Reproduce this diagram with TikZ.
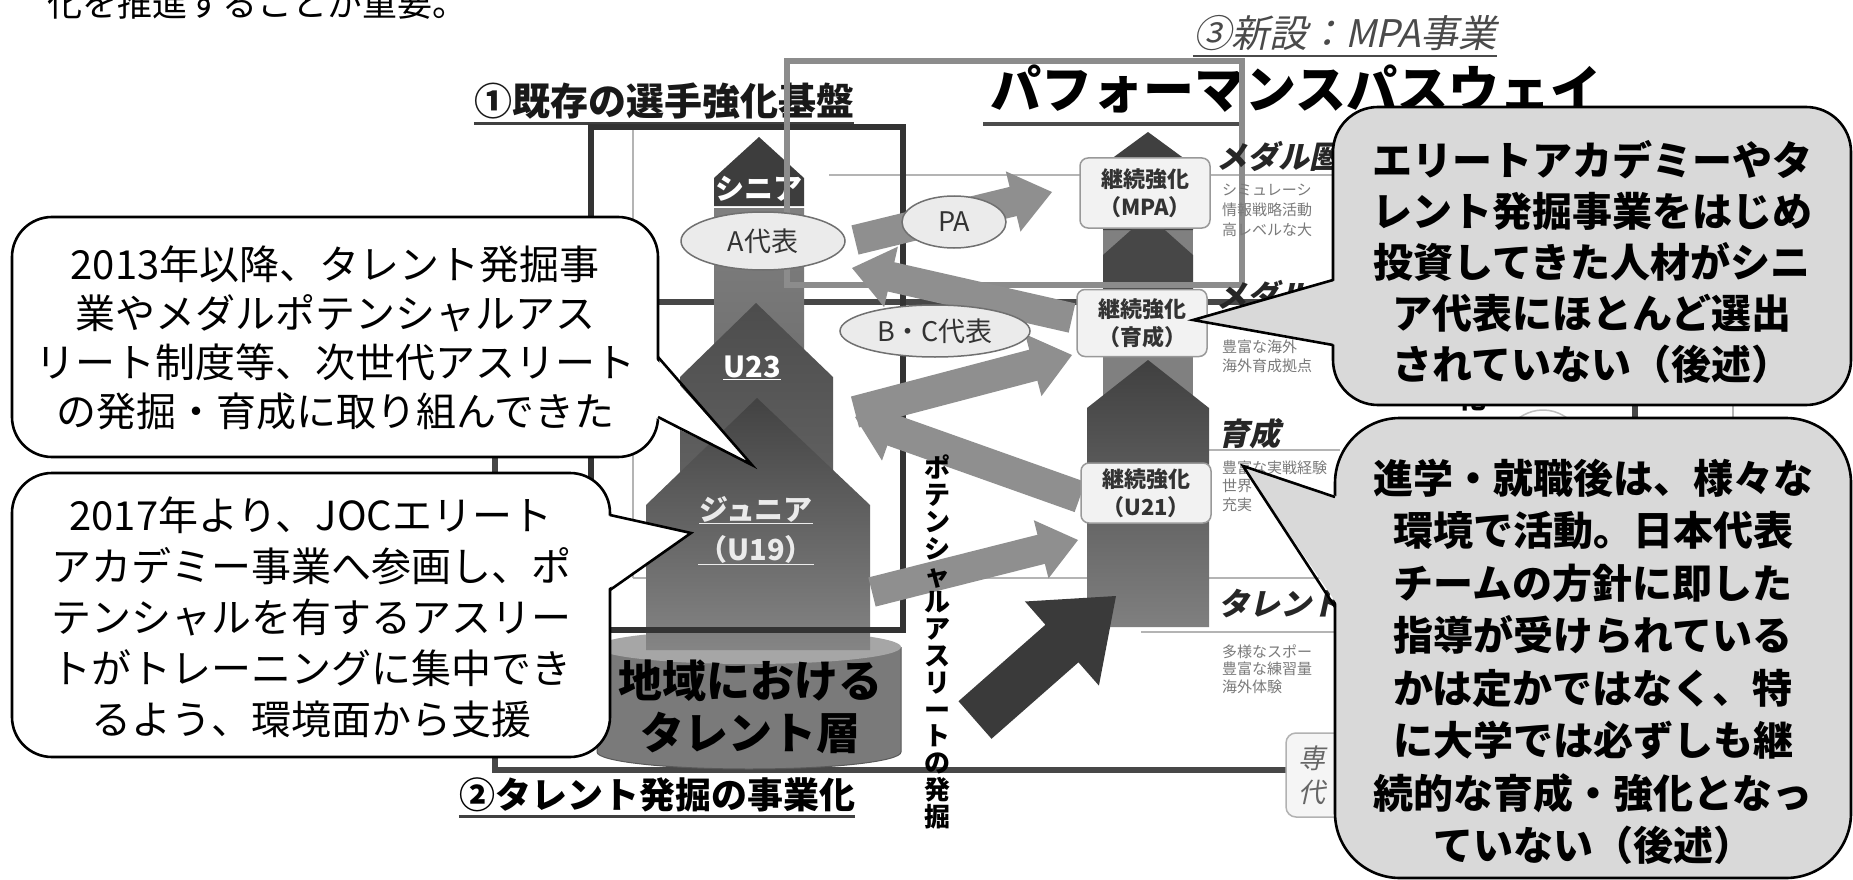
\documentclass[tikz,border=0pt]{standalone}
\usepackage{fontspec}
\setmainfont{Noto Sans CJK JP}
\newfontfamily\jpsl[FakeSlant=0.22]{Noto Sans CJK JP}
\usetikzlibrary{calc,shapes.geometric}
\definecolor{cbox1}{HTML}{333333}
\definecolor{cbox2}{HTML}{474747}
\definecolor{cbox3}{HTML}{8C8C8C}
\definecolor{cgrid}{HTML}{B4B4B4}
\definecolor{cfat}{HTML}{8F8F8F}
\definecolor{cbig}{HTML}{3A3A3A}
\definecolor{cell}{HTML}{EBEBEB}
\definecolor{cellb}{HTML}{707070}
\definecolor{ccall}{HTML}{D9D9D9}
\definecolor{csmall}{HTML}{7A7A7A}
\definecolor{clab}{HTML}{4A4A4A}
\newcommand\myfs[2]{\fontsize{#1}{#2}\selectfont}
\newcommand\fatarrow[6]{%
  \coordinate (fahd) at ($(#2)!#5!(#1)$);
  \fill[#6] ($(#1)!#3!90:(#2)$) -- ($(fahd)!#3!90:(#2)$) -- ($(fahd)!#4!90:(#2)$) -- (#2)
    -- ($(fahd)!#4!-90:(#2)$) -- ($(fahd)!#3!-90:(#2)$) -- ($(#1)!#3!-90:(#2)$) -- cycle;}
\tikzset{
  gridline/.style={draw=cgrid, line width=1.6pt},
  fatgray/.style={fill=cfat},
  ovalnode/.style={ellipse, draw=cellb, fill=cell, line width=1.5pt, inner sep=0pt, font=\myfs{27}{30}, text=black!80},
  kbox/.style={draw=black!40, fill=black!5, rounded corners=8pt, line width=1.5pt, minimum width=130pt, align=center, font=\bfseries\myfs{22}{28}, text=black!80, inner sep=2pt},
  callwhite/.style={draw=black, fill=white, line width=2.6pt, rounded corners=40pt},
  callgray/.style={draw=black, fill=ccall, line width=2.6pt, rounded corners=45pt},
  callside/.style={draw=black, line width=2.6pt, line join=miter},
  calltext/.style={align=center, text=black, font=\myfs{40}{49}},
  calltextb/.style={align=center, text=black, font=\bfseries\myfs{40}{51}},
  smalltxt/.style={anchor=west, text=csmall, font=\myfs{15}{17}, inner sep=0pt},
  levellab/.style={anchor=west, font=\jpsl\bfseries\myfs{31}{34}, text=black!85, inner sep=0pt},
  collab/.style={text=white, font=\bfseries\myfs{29}{40}, align=center, inner sep=0pt},
}
\begin{document}
\begin{tikzpicture}[x=1pt,y=-1pt]
\useasboundingbox (0,0) rectangle (1853,880);
\fill[white] (0,0) rectangle (1853,880);

% top text, cut by the upper edge as in the source
\node[anchor=west, font=\myfs{35}{40}, inner sep=0pt] (toptxt) at (47,3) {化を推進することが重要。};

% labels
\node[font=\jpsl\myfs{38}{44}, text=clab, inner sep=0pt] (lab3) at (1345,33) {③新設：MPA事業};
\draw[clab, line width=2.6pt] ([yshift=-5pt]lab3.south west) -- ([yshift=-5pt]lab3.south east);
\node[font=\bfseries\myfs{38}{44}, text=black!90, inner sep=0pt] (lab1) at (664,101) {①既存の選手強化基盤};
\draw[black!75, line width=3pt] ([yshift=-4pt]lab1.south west) -- ([yshift=-4pt]lab1.south east);
\node[font=\bfseries\myfs{51}{56}, inner sep=0pt] (ppw) at (1296,89) {パフォーマンスパスウェイ};
\draw[black!70, line width=3.5pt] (983,124) -- (1242,124);
\node[font=\bfseries\myfs{36}{42}, inner sep=0pt] (lab2) at (657,795) {②タレント発掘の事業化};
\draw[black!75, line width=3pt] ([yshift=-4pt]lab2.south west) -- ([yshift=-4pt]lab2.south east);

% grid lines of the original figure
\draw[gridline] (829,175) -- (1340,175);
\draw[gridline] (633,128) -- (633,578);
\draw[gridline] (633,578) -- (1340,578);
\draw[gridline] (1136,450) -- (1340,450);
\draw[gridline] (1141,632) -- (1340,632);
\draw[gridline] (1733,380) -- (1733,440);
\draw[draw=black!25, line width=1.5pt] (1543,480) ellipse [x radius=52pt, y radius=70pt];

% box 2
\draw[draw=cbox2, line width=6pt] (495,302) rectangle (1635,770);

% cylinder
\fill[black!52] (597,647) -- (597,752) arc[start angle=180, end angle=360, x radius=152pt, y radius=17pt] -- (901,647) -- cycle;
\draw[black!65, line width=1pt] (597,647) -- (597,752) arc[start angle=180, end angle=360, x radius=152pt, y radius=17pt] -- (901,647);
\fill[black!35] (749,647) ellipse [x radius=152pt, y radius=17pt];

% left columns
\fill[black!76] (714,206) -- (714,178) -- (759,137) -- (804,178) -- (804,206) -- cycle;
\shade[top color=black!50, bottom color=black!58] (714,208) rectangle (804,420);
\shade[top color=black!70, bottom color=black!55] (680,640) -- (680,377) -- (756,303) -- (833,377) -- (833,640) -- cycle;
\shade[top color=black!74, bottom color=black!48] (646,650) -- (646,505) -- (757,398) -- (870,505) -- (870,650) -- cycle;

% right columns
\fill[black!50] (1103,165) rectangle (1193,410);
\fill[black!75] (1103,230) -- (1103,165) -- (1148,132) -- (1193,165) -- (1193,230) -- cycle;
\fill[black!72] (1103,300) -- (1103,255) -- (1148,215) -- (1193,255) -- (1193,300) -- cycle;
\shade[top color=black!75, bottom color=black!50] (1087,627) -- (1087,408) -- (1148,360) -- (1209,408) -- (1209,627) -- cycle;

% column labels
\node[collab] (sen) at (759,189) {シニア};
\node[collab] (u23) at (752,368) {\underline{U23}};
\node[collab, text=black!8] (jun) at (756,510) {\underline{ジュニア}};
\node[collab, text=black!8] (u19) at (756,550) {\underline{（U19）}};
\node[font=\bfseries\myfs{44}{52}, align=center, inner sep=0pt] (cyltxt) at (750,707) {地域における\\タレント層};

% box 1 and box 3
\draw[draw=cbox1, line width=6pt] (591,127) rectangle (903,630);
\draw[draw=cbox3, line width=6pt] (787,61) rectangle (1242,285);

% fat arrows
\coordinate (paT) at (855,240); \coordinate (paH) at (1052,192);
\coordinate (rt1T) at (1072,318); \coordinate (rt1H) at (852,268);
\coordinate (u23T) at (855,412); \coordinate (u23H) at (1072,355);
\coordinate (rt2T) at (1080,497); \coordinate (rt2H) at (855,417);
\coordinate (junT) at (872,592); \coordinate (junH) at (1078,540);
\coordinate (bigT) at (975,720); \coordinate (bigH) at (1116,596);
\fatarrow{paT}{paH}{15pt}{31pt}{40pt}{fatgray}
\fatarrow{rt1T}{rt1H}{15pt}{31pt}{40pt}{fatgray}
\fatarrow{u23T}{u23H}{16pt}{32pt}{40pt}{fatgray}
\fatarrow{rt2T}{rt2H}{16pt}{32pt}{40pt}{fatgray}
\fatarrow{junT}{junH}{15pt}{30pt}{38pt}{fatgray}
\fatarrow{bigT}{bigH}{25pt}{56pt}{72pt}{fill=cbig}

% ovals
\node[ovalnode, minimum width=164pt, minimum height=58pt] (aov) at (763,241) {A代表};
\node[ovalnode, minimum width=104pt, minimum height=52pt] (paov) at (954,222) {PA};
\node[ovalnode, minimum width=190pt, minimum height=52pt] (bcov) at (935,331) {B・C代表};

% continuation boxes
\node[kbox, minimum height=70pt] (kmpa) at (1145,193) {継続強化\\（MPA）};
\node[kbox, minimum height=67pt] (kiku) at (1142,323) {継続強化\\（育成）};
\node[kbox, minimum height=60pt] (ku21) at (1146,493) {継続強化\\（U21）};

% vertical text
\node[align=center, font=\bfseries\myfs{26}{26.8}, inner sep=0pt] (vtext) at (937,642) {ポ\\テ\\ン\\シ\\ャ\\ル\\ア\\ス\\リ\\ー\\ト\\の\\発\\掘};

% right level labels
\node[levellab] (lm1) at (1216,156) {メダル圏};
\node[levellab] (lm2) at (1216,295) {メダル};
\node[levellab] (lik) at (1218,434) {育成};
\node[levellab] (ltal) at (1218,604) {タレント};
\node[smalltxt] (s1) at (1222,190) {シミュレーシ};
\node[smalltxt] (s2) at (1222,210) {情報戦略活動};
\node[smalltxt] (s3) at (1222,230) {高レベルな大};
\node[smalltxt] (s4) at (1222,347) {豊富な海外};
\node[smalltxt] (s5) at (1222,366) {海外育成拠点};
\node[smalltxt] (s6) at (1222,468) {豊富な実戦経験};
\node[smalltxt] (s7) at (1222,486) {世界};
\node[smalltxt] (s8) at (1222,505) {充実};
\node[smalltxt] (s9) at (1222,652) {多様なスポー};
\node[smalltxt] (s10) at (1222,669) {豊富な練習量};
\node[smalltxt] (s11) at (1222,687) {海外体験};
\node[draw=black!30, fill=black!4, rounded corners=10pt, line width=1.5pt, minimum width=76pt, minimum height=84pt] (senbox) at (1324,775) {};
\node[font=\jpsl\myfs{27}{34}, text=black!60, align=center] (sentxt) at (1312,775) {専\\代};
\node[font=\bfseries\myfs{28}{30}, inner sep=0pt] (ka) at (1472,398) {化};

% callout 1
\draw[callwhite] (12,217) rectangle (658,457);
\coordinate (c1a) at (658,357); \coordinate (c1b) at (658,417); \coordinate (c1t) at (752,465);
\fill[white] ($(c1a)+(-4,0)$) -- (c1t) -- ($(c1b)+(-4,0)$) -- cycle;
\draw[callside] (c1a) -- (c1t) -- (c1b);
\node[calltext] (c1txt) at (335,338) {2013年以降、タレント発掘事\\業やメダルポテンシャルアス\\リート制度等、次世代アスリート\\の発掘・育成に取り組んできた};

% callout 2
\draw[callwhite] (12,473) rectangle (610,757);
\coordinate (c2a) at (610,515); \coordinate (c2b) at (610,590); \coordinate (c2t) at (691,533);
\fill[white] ($(c2a)+(-4,0)$) -- (c2t) -- ($(c2b)+(-4,0)$) -- cycle;
\draw[callside] (c2a) -- (c2t) -- (c2b);
\node[calltext, font=\myfs{40}{51}] (c2txt) at (311,617) {2017年より、JOCエリート\\アカデミー事業へ参画し、ポ\\テンシャルを有するアスリー\\トがトレーニングに集中でき\\るよう、環境面から支援};

% callout 3
\draw[callgray] (1333,107) rectangle (1851,405);
\coordinate (c3a) at (1333,280); \coordinate (c3b) at (1333,345); \coordinate (c3t) at (1193,320);
\fill[ccall] ($(c3a)+(4,0)$) -- (c3t) -- ($(c3b)+(4,0)$) -- cycle;
\draw[callside] (c3a) -- (c3t) -- (c3b);
\node[calltextb] (c3txt) at (1592,262) {エリートアカデミーやタ\\レント発掘事業をはじめ\\投資してきた人材がシニ\\ア代表にほとんど選出\\されていない（後述）};

% callout 4
\draw[callgray, rounded corners=65pt] (1335,418) rectangle (1851,878);
\coordinate (c4a) at (1335,497); \coordinate (c4b) at (1335,607); \coordinate (c4t) at (1243,466);
\fill[ccall] ($(c4a)+(4,0)$) -- (c4t) -- ($(c4b)+(4,0)$) -- cycle;
\draw[callside] (c4a) -- (c4t) -- (c4b);
\node[calltextb, font=\bfseries\myfs{40}{52.5}] (c4txt) at (1593,662) {進学・就職後は、様々な\\環境で活動。日本代表\\チームの方針に即した\\指導が受けられている\\かは定かではなく、特\\に大学では必ずしも継\\続的な育成・強化となっ\\ていない（後述）};
\end{tikzpicture}
\end{document}
